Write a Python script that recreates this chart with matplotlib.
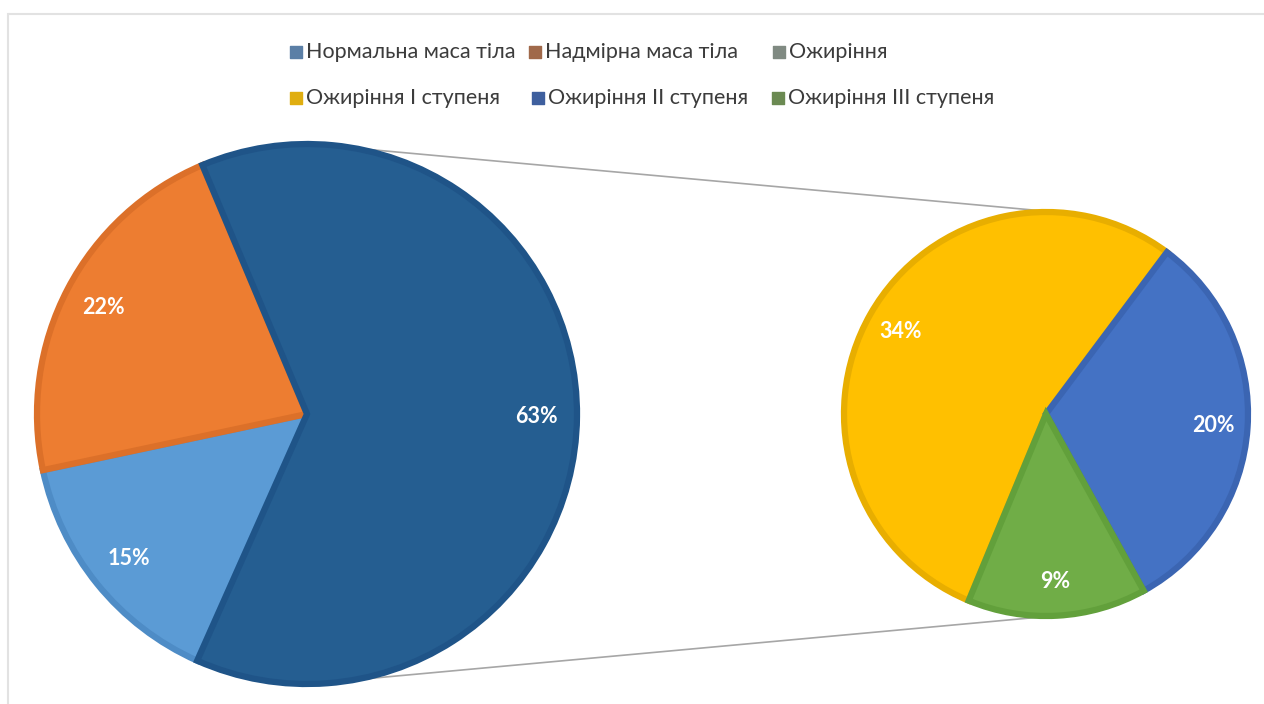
import numpy as np
import matplotlib
matplotlib.use('Agg')
import matplotlib.pyplot as plt
from matplotlib.lines import Line2D

# Основна діаграма: розподіл за масою тіла, %
main_labels = ['Нормальна маса тіла', 'Надмірна маса тіла', 'Ожиріння']
main_values = [15, 22, 63]
# Вторинна діаграма: ступені ожиріння, % від усіх
sub_labels = ['Ожиріння І ступеня', 'Ожиріння ІІ ступеня', 'Ожиріння ІІІ ступеня']
sub_values = [34, 20, 9]

main_fill = ['#5b9bd5', '#ed7d31', '#255e91']
main_edge = ['#4e8cc6', '#dc7029', '#1f5488']
sub_fill = ['#ffc000', '#4472c4', '#70ad47']
sub_edge = ['#e8ae00', '#3b65b2', '#62a03b']
legend_colors = ['#5b7fa6', '#a0694a', '#808a82', '#e0ae10', '#3e5f9e', '#6b8a52']

W, H = 1264, 704
plt.rcParams['font.family'] = ['Lato', 'DejaVu Sans']

fig = plt.figure(figsize=(W / 100, H / 100), dpi=100)
ax = fig.add_axes([0, 0, 1, 1])

# рамка області діаграми (ледь помітна)
fig.add_artist(Line2D([8 / W, 8 / W], [0, 1 - 14 / H], color='#e2e2e2', lw=1.5))
fig.add_artist(Line2D([10 / W, 1], [1 - 14 / H, 1 - 14 / H], color='#e2e2e2', lw=1.5))

c1, r1 = (307, H - 414), 270
c2, r2 = (1046, H - 414), 202


def draw_pie(values, fill, edge, center, radius, start, dist):
    wedges, _ = ax.pie(values, colors=fill, center=center, radius=radius,
                       startangle=start, counterclock=False,
                       wedgeprops=dict(linewidth=4.5))
    for w, ec, v in zip(wedges, edge, values):
        w.set_edgecolor(ec)
        w.set_joinstyle('miter')
        mid = np.deg2rad((w.theta1 + w.theta2) / 2)
        ax.text(center[0] + dist * radius * np.cos(mid),
                center[1] + dist * radius * np.sin(mid),
                f'{v}%', color='white', fontsize=15.5, fontweight='bold',
                ha='center', va='center')
    return wedges


# з'єднувальні лінії між діаграмами
for a1, a2 in [(80, 86), (-80, -88)]:
    p1 = (c1[0] + r1 * np.cos(np.deg2rad(a1)), c1[1] + r1 * np.sin(np.deg2rad(a1)))
    p2 = (c2[0] + r2 * np.cos(np.deg2rad(a2)), c2[1] + r2 * np.sin(np.deg2rad(a2)))
    ax.plot([p1[0], p2[0]], [p1[1], p2[1]], color='#a6a6a6', lw=1.2, zorder=0)

draw_pie(main_values, main_fill, main_edge, c1, r1, 246.0, 0.85)
draw_pie(sub_values, sub_fill, sub_edge, c2, r2, 247.5, 0.83)

# легенда
legend_pos = [(296, 52), (535, 52), (779, 52), (296, 98), (538, 98), (778, 98)]
for (x, y), txt, col in zip(legend_pos, main_labels + sub_labels, legend_colors):
    ax.scatter([x], [H - y], marker='s', s=80, color=col, zorder=5)
    ax.text(x + 10, H - y, txt, fontsize=15.5, color='#3c3c3c',
            ha='left', va='center')

# pie() перевизначає межі осей, тому задаємо їх наприкінці
ax.set_xlim(0, W)
ax.set_ylim(0, H)
ax.set_aspect('equal')
ax.axis('off')

fig.savefig('out.png', dpi=100)
